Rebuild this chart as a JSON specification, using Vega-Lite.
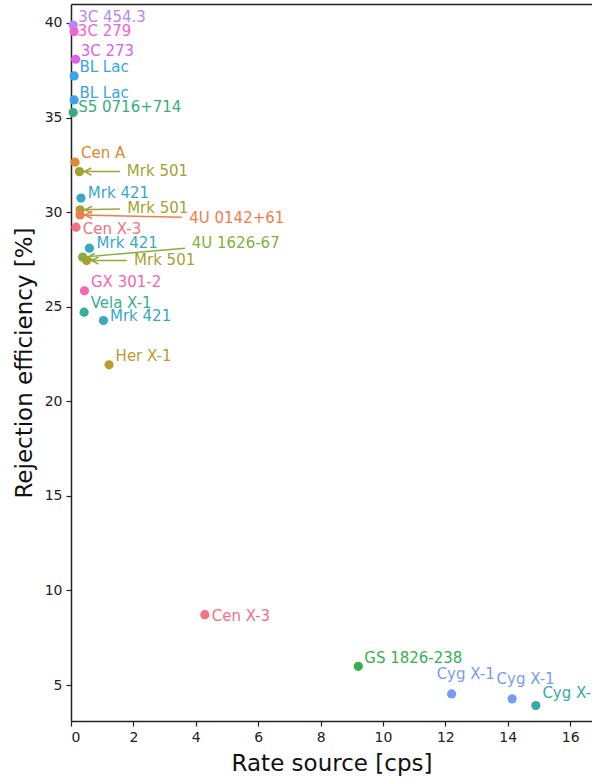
{
  "$schema": "https://vega.github.io/schema/vega-lite/v6.json",
  "width": 521,
  "height": 717,
  "autosize": {"type": "none"},
  "padding": {"left": 71, "top": 4, "right": 0, "bottom": 58},
  "background": "white",
  "config": {
    "view": {"stroke": null},
    "font": "DejaVu Sans",
    "axis": {
      "grid": false,
      "domainColor": "#222222",
      "domainWidth": 1.5,
      "tickColor": "#222222",
      "tickWidth": 1.2,
      "tickSize": 5,
      "labelFont": "DejaVu Sans",
      "labelFontSize": 14,
      "labelColor": "#222222",
      "labelPadding": 4,
      "titleFont": "DejaVu Sans",
      "titleFontSize": 23,
      "titleFontWeight": "normal",
      "titleColor": "#111111"
    }
  },
  "data": {
    "values": [
      {"source": "3C 454.3", "rate": 0.07, "eff": 39.89, "lx": 0.23, "ly": 40.33},
      {"source": "3C 279", "rate": 0.10, "eff": 39.54, "lx": 0.22, "ly": 39.59},
      {"source": "3C 273", "rate": 0.15, "eff": 38.08, "lx": 0.31, "ly": 38.53},
      {"source": "BL Lac", "rate": 0.10, "eff": 37.20, "lx": 0.27, "ly": 37.69},
      {"source": "BL Lac", "rate": 0.10, "eff": 35.93, "lx": 0.27, "ly": 36.31},
      {"source": "S5 0716+714", "rate": 0.07, "eff": 35.26, "lx": 0.23, "ly": 35.54},
      {"source": "Cen A", "rate": 0.13, "eff": 32.64, "lx": 0.32, "ly": 33.14},
      {"source": "Mrk 501", "rate": 0.27, "eff": 32.14, "lx": 1.79, "ly": 32.19, "ax": 1.57, "ay": 32.14},
      {"source": "Mrk 421", "rate": 0.32, "eff": 30.74, "lx": 0.54, "ly": 31.03},
      {"source": "Mrk 501", "rate": 0.29, "eff": 30.12, "lx": 1.80, "ly": 30.21, "ax": 1.57, "ay": 30.17},
      {"source": "4U 0142+61", "rate": 0.29, "eff": 29.85, "lx": 3.79, "ly": 29.68, "ax": 3.55, "ay": 29.73},
      {"source": "Cen X-3", "rate": 0.16, "eff": 29.20, "lx": 0.38, "ly": 29.10},
      {"source": "Mrk 421", "rate": 0.59, "eff": 28.09, "lx": 0.82, "ly": 28.36},
      {"source": "4U 1626-67", "rate": 0.375, "eff": 27.62, "lx": 3.87, "ly": 28.36, "ax": 3.65, "ay": 28.09},
      {"source": "Mrk 501", "rate": 0.50, "eff": 27.44, "lx": 2.02, "ly": 27.48, "ax": 1.79, "ay": 27.44},
      {"source": "GX 301-2", "rate": 0.43, "eff": 25.84, "lx": 0.64, "ly": 26.28},
      {"source": "Vela X-1", "rate": 0.42, "eff": 24.71, "lx": 0.63, "ly": 25.22},
      {"source": "Mrk 421", "rate": 1.04, "eff": 24.27, "lx": 1.25, "ly": 24.52},
      {"source": "Her X-1", "rate": 1.22, "eff": 21.93, "lx": 1.43, "ly": 22.37},
      {"source": "Cen X-3", "rate": 4.29, "eff": 8.72, "lx": 4.51, "ly": 8.63},
      {"source": "GS 1826-238", "rate": 9.21, "eff": 5.99, "lx": 9.40, "ly": 6.44},
      {"source": "Cyg X-1", "rate": 12.20, "eff": 4.53, "lx": 11.72, "ly": 5.59},
      {"source": "Cyg X-1", "rate": 14.14, "eff": 4.27, "lx": 13.64, "ly": 5.33},
      {"source": "Cyg X-3", "rate": 14.90, "eff": 3.92, "lx": 15.11, "ly": 4.57}
    ]
  },
  "resolve": {"axis": {"x": "independent", "y": "independent"}},
  "layer": [
    {
      "transform": [{"filter": "isValid(datum.ax)"}],
      "mark": {"type": "rule", "strokeWidth": 1.5},
      "encoding": {
        "x": {"field": "rate", "type": "quantitative", "scale": {"domain": [0, 16.7], "nice": false, "zero": false}, "axis": null},
        "y": {"field": "eff", "type": "quantitative", "scale": {"domain": [3.1, 41.0], "nice": false, "zero": false}, "axis": null},
        "x2": {"field": "ax"},
        "y2": {"field": "ay"},
        "color": {"field": "source", "type": "nominal", "legend": null}
      }
    },
    {
      "transform": [{"filter": "isValid(datum.ax)"}],
      "mark": {"type": "point", "shape": "M1,-0.3L0.42,0L1,0.3", "filled": false, "size": 576, "strokeWidth": 1.5, "opacity": 1},
      "encoding": {
        "x": {"field": "rate", "type": "quantitative", "axis": null},
        "y": {"field": "eff", "type": "quantitative", "axis": null},
        "color": {"field": "source", "type": "nominal", "legend": null}
      }
    },
    {
      "mark": {"type": "circle", "size": 85, "opacity": 1},
      "encoding": {
        "x": {"field": "rate", "type": "quantitative", "axis": {"orient": "bottom", "title": "Rate source [cps]", "values": [0, 2, 4, 6, 8, 10, 12, 14, 16], "labelPadding": 4, "titlePadding": 8}},
        "y": {"field": "eff", "type": "quantitative", "axis": {"orient": "left", "title": "Rejection efficiency [%]", "values": [5, 10, 15, 20, 25, 30, 35, 40], "titlePadding": 8}},
        "color": {
          "field": "source",
          "type": "nominal",
          "legend": null,
          "scale": {
            "domain": ["3C 454.3", "3C 279", "3C 273", "BL Lac", "S5 0716+714", "Cen A", "Mrk 501", "Mrk 421", "4U 0142+61", "Cen X-3", "4U 1626-67", "GX 301-2", "Vela X-1", "Her X-1", "GS 1826-238", "Cyg X-1", "Cyg X-3"],
            "range": ["#b38af3", "#f561d3", "#dc62ec", "#3ba3ec", "#36ae7c", "#dc8932", "#a3a232", "#39a8c4", "#f47c4a", "#f66f82", "#7fb23a", "#f565b0", "#37ad96", "#bc9b34", "#33b24f", "#779cf4", "#37aba6"]
          }
        }
      }
    },
    {
      "mark": {"type": "text", "align": "left", "baseline": "middle", "font": "DejaVu Sans", "fontSize": 15},
      "encoding": {
        "x": {"field": "lx", "type": "quantitative", "axis": {"orient": "top", "labels": false, "ticks": false, "title": null, "domain": true}},
        "y": {"field": "ly", "type": "quantitative", "axis": null},
        "text": {"field": "source"},
        "color": {"field": "source", "type": "nominal", "legend": null}
      }
    }
  ]
}
